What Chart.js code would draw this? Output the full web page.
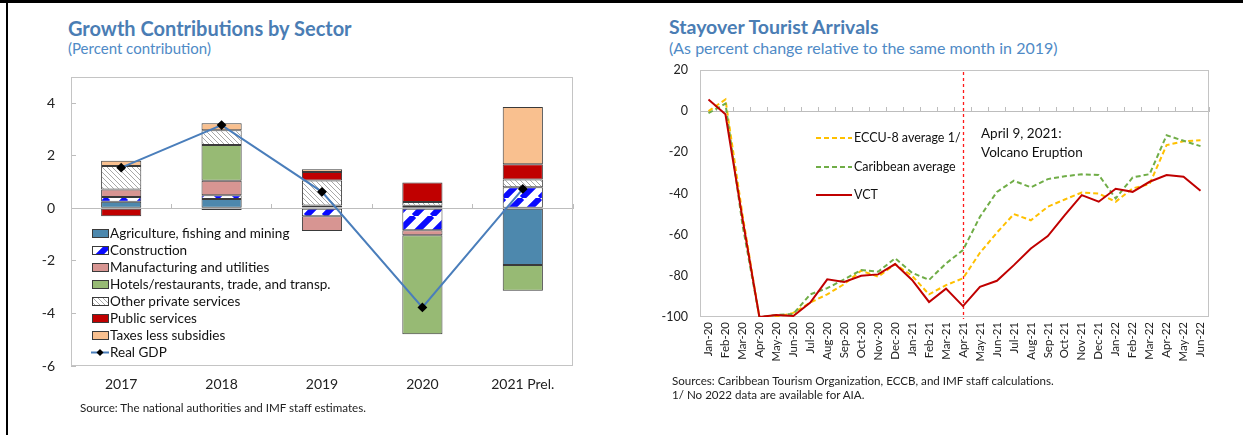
<!DOCTYPE html>
<html><head><meta charset="utf-8">
<script src="https://cdn.jsdelivr.net/npm/chart.js@4"></script>
<style>
html,body{margin:0;padding:0;background:#fff;}
body{width:1243px;height:435px;position:relative;overflow:hidden;font-family:Lato,'Open Sans',sans-serif;color:#222;}
.abs{position:absolute;white-space:nowrap;}
.title{font-weight:bold;font-size:20px;line-height:20px;color:#4a7db4;}
.sub{font-size:15px;line-height:15px;color:#4f8ac6;}
.src{font-size:11.6px;line-height:12px;color:#222;}
.lg{font-size:13.5px;line-height:14px;color:#111;}
.lg2{font-size:12.5px;line-height:13px;color:#111;}
canvas{position:absolute;}
</style></head><body>
<div class="abs" style="left:0;top:0;width:1243px;height:3px;background:#000"></div>
<div class="abs" style="left:6px;top:0;width:2px;height:435px;background:#000"></div>

<div class="abs title" style="left:68px;top:18px">Growth Contributions by Sector</div>
<div class="abs sub" style="left:68px;top:41px">(Percent contribution)</div>
<div class="abs title" style="left:669px;top:17px;font-size:19.5px">Stayover Tourist Arrivals</div>
<div class="abs sub" style="left:669px;top:40px;font-size:16px;line-height:16px">(As percent change relative to the same month in 2019)</div>

<canvas id="c1" width="640" height="435" style="left:0;top:0"></canvas>
<canvas id="c2" width="603" height="435" style="left:640px;top:0"></canvas>

<div id="leg1"></div>
<div id="leg2"></div>
<div class="abs lg" style="left:981px;top:126px;font-size:13.5px">April 9, 2021:</div>
<div class="abs lg" style="left:981px;top:145px;font-size:13.5px">Volcano Eruption</div>

<div class="abs src" style="left:80px;top:402px">Source: The national authorities and IMF staff estimates.</div>
<div class="abs src" style="left:672px;top:375px">Sources: Caribbean Tourism Organization, ECCB, and IMF staff calculations.</div>
<div class="abs src" style="left:672px;top:389px">1/ No 2022 data are available for AIA.</div>

<script>
// ---------- Data: Growth contributions ----------
const years = ['2017', '2018', '2019', '2020', '2021 Prel.'];
const agriculture   = [0.25, 0.36, 0.03, 0.10, -2.16];
const construction  = [0.18, 0.14, -0.30, -0.83, 0.80];
const manufacturing = [0.29, 0.55, -0.56, -0.19, 0.00];
const hotels        = [0.00, 1.36, 0.08, -3.77, -0.98];
const otherPrivate  = [0.89, 0.56, 0.95, 0.14, 0.30];
const publicServices= [-0.30, -0.06, 0.32, 0.74, 0.58];
const taxes         = [0.20, 0.27, 0.11, 0.00, 2.18];
const realGDP       = [1.55, 3.17, 0.63, -3.77, 0.74];
const leftYTicks = [-6, -4, -2, 0, 2, 4];

// ---------- Data: Stayover tourist arrivals ----------
const months = ['Jan-20','Feb-20','Mar-20','Apr-20','May-20','Jun-20','Jul-20','Aug-20','Sep-20','Oct-20','Nov-20','Dec-20',
  'Jan-21','Feb-21','Mar-21','Apr-21','May-21','Jun-21','Jul-21','Aug-21','Sep-21','Oct-21','Nov-21','Dec-21',
  'Jan-22','Feb-22','Mar-22','Apr-22','May-22','Jun-22'];
const eccu8 = [0, 5.7, -50, -100, -100, -98, -93, -89, -84, -77.5, -80.4, -74.3,
  -80, -89, -84.5, -81.2, -68.8, -59, -50, -53, -46.4, -42.9, -39.5, -40,
  -44, -37.5, -35.4, -16.5, -14.6, -14.1];
const caribbean = [-1, 3.7, -55, -100, -99, -98.5, -89, -86, -81.7, -77.2, -78, -71.5,
  -78.5, -82, -74, -67.5, -51.3, -39.2, -33.8, -37, -33, -31.6, -30.7, -31,
  -42.4, -32.2, -30.6, -11.7, -14.4, -17];
const vct = [5.7, -1.5, -52, -100, -99, -99.5, -93, -81.7, -83, -80, -79.3, -74.3,
  -82, -92.7, -86.2, -94.7, -85.3, -82.4, -74.8, -66.7, -60.7, -50.5, -40.8, -44,
  -37.7, -39.2, -34.3, -31, -31.9, -38.7];
const rightYTicks = [-100, -80, -60, -40, -20, 0, 20];
const eventMonth = 'Apr-21';

Chart.defaults.font.family = 'Lato, "Open Sans", sans-serif';
Chart.defaults.color = '#222';
Chart.defaults.animation = false;

function makeTile(w, h, draw) {
  const c = document.createElement('canvas'); c.width = w; c.height = h;
  draw(c.getContext('2d'), w, h); return c;
}
const ctx1 = document.getElementById('c1').getContext('2d');
const stripeTile = makeTile(18, 18, (g, w, h) => {
  g.fillStyle = '#fff'; g.fillRect(0, 0, w, h);
  g.strokeStyle = '#0a0aff'; g.lineWidth = 6; g.beginPath();
  for (const o of [-w, 0, w]) { g.moveTo(o, h); g.lineTo(o + w, 0); }
  g.stroke();
});
const hatchTile = makeTile(5, 5, (g, w, h) => {
  g.fillStyle = '#fff'; g.fillRect(0, 0, w, h);
  g.strokeStyle = '#a8a8a8'; g.lineWidth = 1; g.beginPath();
  for (const o of [-w, 0, w]) { g.moveTo(o, 0); g.lineTo(o + w, h); }
  g.stroke();
});
const stripePat = ctx1.createPattern(stripeTile, 'repeat');
const hatchPat = ctx1.createPattern(hatchTile, 'repeat');

const sectors = [
  { label: 'Agriculture, fishing and mining', data: agriculture, fill: '#4d88ad' },
  { label: 'Construction', data: construction, fill: stripePat, tile: stripeTile },
  { label: 'Manufacturing and utilities', data: manufacturing, fill: '#d79592' },
  { label: 'Hotels/restaurants, trade, and transp.', data: hotels, fill: '#97ba74' },
  { label: 'Other private services', data: otherPrivate, fill: hatchPat, tile: hatchTile },
  { label: 'Public services', data: publicServices, fill: '#c00000' },
  { label: 'Taxes less subsidies', data: taxes, fill: '#f9c08f' }
];

const boxPlugin = {
  id: 'box',
  beforeDatasetsDraw(chart) {
    const a = chart.chartArea, c = chart.ctx;
    c.save(); c.strokeStyle = '#c4c4c4'; c.lineWidth = 1;
    c.strokeRect(Math.round(a.left) + 0.5, Math.round(a.top) + 0.5, Math.round(a.right - a.left) - 1, Math.round(a.bottom - a.top) - 1);
    c.restore();
  }
};

new Chart(ctx1, {
  type: 'bar',
  data: {
    labels: years,
    datasets: [
      { type: 'line', label: 'Real GDP', data: realGDP, borderColor: '#4a7ebb', borderWidth: 2,
        backgroundColor: '#000', pointStyle: 'rectRot', pointRadius: 3.5, pointBorderColor: '#000',
        pointBackgroundColor: '#000', tension: 0, stack: 'gdp', order: -1 },
      ...sectors.map(s => ({ label: s.label, data: s.data, backgroundColor: s.fill, borderColor: '#3a3a3a',
        borderWidth: 1, borderSkipped: false, categoryPercentage: 1, barPercentage: 0.4, stack: 'sec' }))
    ]
  },
  options: {
    responsive: false,
    layout: { padding: { left: 31, top: 77, right: 67, bottom: 39 } },
    plugins: { legend: { display: false }, tooltip: { enabled: false } },
    scales: {
      x: { stacked: true, offset: true, grid: { display: false, drawTicks: false }, border: { display: false },
        ticks: { font: { size: 14 }, color: '#222', padding: 10 },
        afterFit(s) { s.height = 30; } },
      x0: { type: 'category', position: { y: 0 }, offset: true,
        grid: { offset: true, drawOnChartArea: false, drawTicks: true, tickLength: -5, color: '#bdbdbd' },
        border: { display: true, color: '#bdbdbd', width: 1 }, ticks: { display: false } },
      y: { stacked: true, min: -6, max: 5,
        afterBuildTicks(s) { s.ticks = leftYTicks.map(v => ({ value: v })); },
        grid: { drawOnChartArea: false, drawTicks: true, tickLength: -5, color: '#bdbdbd' },
        border: { display: false },
        ticks: { font: { size: 14 }, color: '#222', padding: 21 },
        afterFit(s) { s.width = 40; } }
    }
  },
  plugins: [boxPlugin]
});

// left legend (HTML)
(function () {
  const L = document.getElementById('leg1');
  const items = sectors.concat([{ label: 'Real GDP', line: true }]);
  items.forEach((it, i) => {
    const cy = 233 + 17 * i;
    const cv = document.createElement('canvas');
    cv.width = 18; cv.height = 11;
    cv.style.left = '91px'; cv.style.top = (cy - 5) + 'px';
    const g = cv.getContext('2d');
    if (it.line) {
      g.strokeStyle = '#4a7ebb'; g.lineWidth = 2; g.beginPath(); g.moveTo(0, 5.5); g.lineTo(18, 5.5); g.stroke();
      g.fillStyle = '#000'; g.beginPath(); g.moveTo(9, 2); g.lineTo(12.5, 5.5); g.lineTo(9, 9); g.lineTo(5.5, 5.5); g.closePath(); g.fill();
    } else {
      g.fillStyle = it.tile ? g.createPattern(it.tile, 'repeat') : it.fill;
      g.fillRect(1, 1, 17, 9);
      g.strokeStyle = '#3a3a3a'; g.lineWidth = 1; g.strokeRect(1.5, 1.5, 16, 8);
    }
    L.appendChild(cv);
    const t = document.createElement('div');
    t.className = 'abs lg'; t.style.left = '110px'; t.style.top = (cy - 7) + 'px';
    t.textContent = it.label; L.appendChild(t);
  });
})();

// ---------- Right chart ----------
const eventPlugin = {
  id: 'eventLine',
  beforeDatasetsDraw(chart) {
    const x = Math.round(chart.scales.x.getPixelForValue(months.indexOf(eventMonth))) + 0.5;
    const c = chart.ctx, a = chart.chartArea;
    c.save(); c.strokeStyle = '#ff1a1a'; c.lineWidth = 1.3; c.setLineDash([3, 3]);
    c.beginPath(); c.moveTo(x, a.top + 2); c.lineTo(x, a.bottom + 2); c.stroke(); c.restore();
  }
};

const seriesR = [
  { label: 'ECCU-8 average 1/', data: eccu8, color: '#ffc000', dash: [5, 3] },
  { label: 'Caribbean average', data: caribbean, color: '#70ad47', dash: [5, 3] },
  { label: 'VCT', data: vct, color: '#c00000', dash: [] }
];

new Chart(document.getElementById('c2').getContext('2d'), {
  type: 'line',
  data: {
    labels: months,
    datasets: seriesR.slice().reverse().map(s => ({ label: s.label, data: s.data, borderColor: s.color,
      borderDash: s.dash, borderWidth: 2, pointRadius: 0, tension: 0, fill: false }))
  },
  options: {
    responsive: false,
    layout: { padding: { left: 0, top: 70, right: 34, bottom: 68 } },
    plugins: { legend: { display: false }, tooltip: { enabled: false } },
    scales: {
      x: { offset: true, grid: { display: false, drawTicks: false }, border: { display: false },
        ticks: { font: { size: 11.5 }, color: '#222', minRotation: 90, maxRotation: 90, autoSkip: false, padding: 5 },
        afterFit(s) { s.height = 50; } },
      x0: { type: 'category', position: { y: 0 }, offset: true,
        grid: { offset: true, drawOnChartArea: false, drawTicks: true, tickLength: -5, color: '#bdbdbd' },
        border: { display: true, color: '#bdbdbd', width: 1 }, ticks: { display: false } },
      y: { min: -100, max: 20,
        afterBuildTicks(s) { s.ticks = rightYTicks.map(v => ({ value: v })); },
        grid: { display: false, drawTicks: false }, border: { display: false },
        ticks: { font: { size: 12.5 }, color: '#222', padding: 12 },
        afterFit(s) { s.width = 60; } }
    }
  },
  plugins: [boxPlugin, eventPlugin]
});

// right legend (HTML)
(function () {
  const L = document.getElementById('leg2');
  const rows = [138, 167, 195];
  seriesR.forEach((s, i) => {
    const cy = rows[i];
    const cv = document.createElement('canvas');
    cv.width = 36; cv.height = 6;
    cv.style.left = '816px'; cv.style.top = (cy - 3) + 'px';
    const g = cv.getContext('2d');
    g.strokeStyle = s.color; g.lineWidth = 2; g.setLineDash(s.dash);
    g.beginPath(); g.moveTo(0, 3); g.lineTo(36, 3); g.stroke();
    L.appendChild(cv);
    const t = document.createElement('div');
    t.className = 'abs lg2'; t.style.left = '854px'; t.style.top = (cy - 7) + 'px';
    t.textContent = s.label; L.appendChild(t);
  });
})();
</script>
</body></html>
